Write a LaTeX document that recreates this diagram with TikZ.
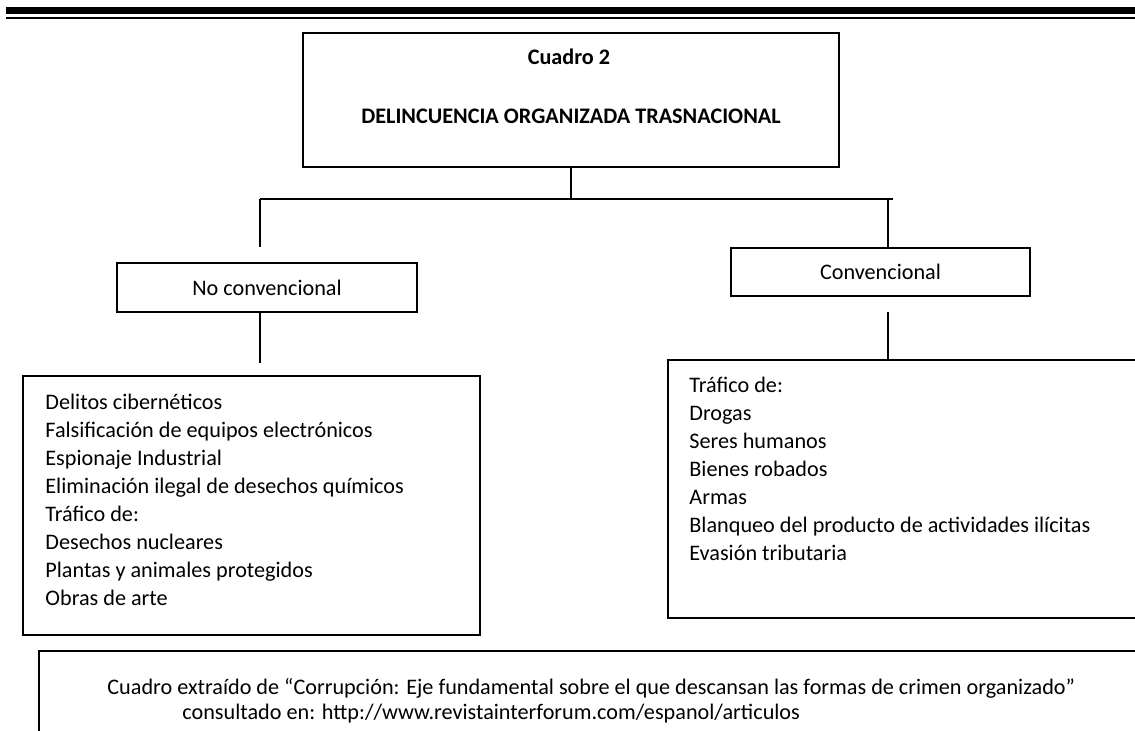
\documentclass[tikz,border=0pt]{standalone}
\usepackage{fontspec}
\setmainfont{Carlito}
\usetikzlibrary{positioning}

\begin{document}
\begin{tikzpicture}[x=0.5pt,y=-0.5pt,
    caja/.style={draw,line width=0.9pt,inner sep=0pt},
    texto/.style={font=\fontsize{11.1}{14}\selectfont,inner sep=0pt},
    negrita/.style={font=\fontsize{11.1}{14}\selectfont\bfseries,inner sep=0pt},
    lista/.style={texto,align=left,anchor=north west},
    nota/.style={font=\fontsize{11.1}{10.5}\selectfont,inner sep=0pt,anchor=base west},
    linea/.style={line width=0.9pt}]
  \useasboundingbox (0,0) rectangle (1135,731);
  \clip (0,0) rectangle (1135,731);
  \fill (6,7) rectangle (1140,14.5);
  \fill (6,17) rectangle (1140,19);

  \node[caja,minimum width=268pt,minimum height=67pt] (raiz) at (571,100) {};
  \node[negrita] (cuadro) at (569,57) {Cuadro 2};
  \node[negrita] (tema) at (571,116) {DELINCUENCIA ORGANIZADA TRASNACIONAL};

  \node[caja,minimum width=150pt,minimum height=24.5pt] (noconv) at (267,287.5) {};
  \node[texto] at (noconv) {No convencional};
  \node[caja,minimum width=149.5pt,minimum height=24pt] (conv) at (880.5,272) {};
  \node[texto] at (conv) {Convencional};

  \node[caja,minimum width=228.5pt,minimum height=129.5pt] (listaizq) at (251.5,505.5) {};
  \node[lista] (itemsizq) at (45,394) {Delitos cibernéticos\\
    Falsificación de equipos electrónicos\\
    Espionaje Industrial\\
    Eliminación ilegal de desechos químicos\\
    Tráfico de:\\
    Desechos nucleares\\
    Plantas y animales protegidos\\
    Obras de arte};

  \node[caja,minimum width=241pt,minimum height=129pt] (listader) at (909,489) {};
  \node[lista] (itemsder) at (689,377) {Tráfico de:\\
    Drogas\\
    Seres humanos\\
    Bienes robados\\
    Armas\\
    Blanqueo del producto de actividades ilícitas\\
    Evasión tributaria};

  \node[caja,minimum width=555.5pt,minimum height=49.5pt] (fuente) at (594.5,700.5) {};
  \node[nota] (cita) at (107,694) {Cuadro extraído de “Corrupción: Eje fundamental sobre el que descansan las formas de crimen organizado”};
  \node[nota] (enlace) at (182,719) {consultado en: http://www.revistainterforum.com/espanol/articulos};

  \coordinate (cruce) at (571,199);
  \coordinate (izq) at (260,199);
  \coordinate (der) at (893,199);
  \coordinate (baja) at (888,199);
  \coordinate (izqfin) at (260,247);
  \coordinate (noconvfin) at (260,363);
  \coordinate (convini) at (888,312);

  \draw[linea] (raiz.south) -- (cruce);
  \draw[linea] (izq) -- (der);
  \draw[linea] (izq) -- (izqfin);
  \draw[linea] (baja) -- (baja |- conv.north);
  \draw[linea] (noconv.south -| noconvfin) -- (noconvfin);
  \draw[linea] (convini) -- (convini |- listader.north);
\end{tikzpicture}
\end{document}
